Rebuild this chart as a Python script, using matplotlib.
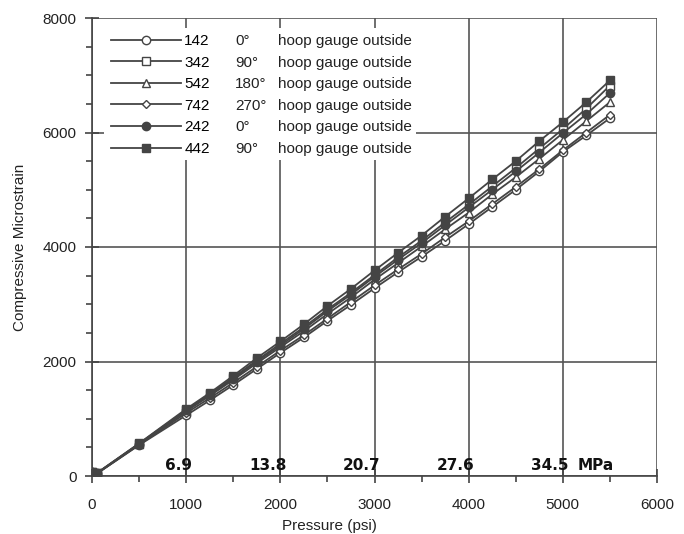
import numpy as np
import matplotlib.pyplot as plt
from matplotlib.patches import Rectangle
from matplotlib.ticker import MultipleLocator

plt.rcParams.update({
    "font.family": ["Liberation Sans", "DejaVu Sans"],
    "font.size": 11,
    "axes.linewidth": 1.2,
})

# Data (pressure in psi, compressive microstrain)
pressure = [0, 50, 500, 1000, 1250, 1500, 1750, 2000, 2250, 2500, 2750,
            3000, 3250, 3500, 3750, 4000, 4250, 4500, 4750, 5000, 5250, 5500]

strain_142 = [70, 40, 540, 1060, 1320, 1590, 1870, 2150, 2420, 2710, 2990,
              3280, 3560, 3830, 4110, 4400, 4700, 5000, 5320, 5660, 5950, 6250]
strain_342 = [70, 45, 565, 1150, 1430, 1720, 2020, 2310, 2600, 2910, 3200,
              3510, 3820, 4110, 4430, 4740, 5060, 5380, 5720, 6060, 6420, 6820]
strain_542 = [70, 45, 555, 1130, 1400, 1680, 1970, 2250, 2530, 2830, 3120,
              3430, 3720, 4010, 4310, 4600, 4920, 5220, 5540, 5870, 6200, 6530]
strain_742 = [70, 40, 545, 1100, 1360, 1630, 1910, 2190, 2460, 2750, 3040,
              3330, 3610, 3880, 4170, 4450, 4750, 5050, 5360, 5690, 6000, 6310]
strain_242 = [70, 45, 560, 1150, 1420, 1700, 2000, 2280, 2570, 2880, 3170,
              3480, 3780, 4070, 4380, 4690, 5000, 5320, 5650, 5990, 6320, 6690]
strain_442 = [70, 50, 570, 1170, 1450, 1750, 2060, 2350, 2650, 2970, 3270,
              3590, 3900, 4200, 4530, 4850, 5180, 5500, 5850, 6180, 6530, 6910]

gauges = ["142", "342", "542", "742", "242", "442"]
angles = ["0°", "90°", "180°", "270°", "0°", "90°"]
location = "hoop gauge outside"
series = [strain_142, strain_342, strain_542, strain_742, strain_242, strain_442]
markers = ["o", "s", "^", "D", "o", "s"]
filled = [False, False, False, False, True, True]

mpa_ticks = [1000, 2000, 3000, 4000, 5000]
mpa_labels = ["6.9", "13.8", "20.7", "27.6", "34.5"]

line_col = "#444444"
grid_col = "#555555"

fig = plt.figure(figsize=(6.84, 5.34), dpi=100)
ax = fig.add_axes([92 / 684, 1 - 476 / 534, 565 / 684, 458 / 534])

handles = []
for vals, mk, fl, g in zip(series, markers, filled, gauges):
    ms = 4.5 if mk == "D" else 6
    h, = ax.plot(pressure, vals, color=line_col, lw=1.3, marker=mk, ms=ms,
                 mec=line_col, mew=1.0, mfc=line_col if fl else "white",
                 label=g, zorder=3)
    handles.append(h)

ax.set_xlim(0, 6000)
ax.set_ylim(0, 8000)
ax.xaxis.set_major_locator(MultipleLocator(1000))
ax.xaxis.set_minor_locator(MultipleLocator(500))
ax.yaxis.set_major_locator(MultipleLocator(2000))
ax.yaxis.set_minor_locator(MultipleLocator(500))
ax.tick_params(which="major", direction="inout", length=10, width=1.2,
               color=line_col, labelcolor="#222222", labelsize=11)
ax.tick_params(axis="x", which="major", pad=11)
ax.tick_params(axis="y", which="major", pad=6)
ax.tick_params(which="minor", direction="out", length=4, width=1.2, color=line_col)

for s in ["top", "right"]:
    ax.spines[s].set_visible(False)
for s in ["left", "bottom"]:
    ax.spines[s].set_color(line_col)

ax.grid(True, which="major", color=grid_col, lw=1.2, zorder=1)
ax.get_xgridlines()[-1].set_visible(False)

ax.set_xlabel("Pressure (psi)", fontsize=11, color="#222222")
ax.xaxis.set_label_coords(0.42, -0.094)
ax.set_ylabel("Compressive Microstrain", fontsize=11, color="#222222")
ax.yaxis.set_label_coords(-0.115, 0.5)

for x, lab in zip(mpa_ticks, mpa_labels):
    ax.text(x + 65, 45, lab, ha="right", va="bottom", fontsize=11,
            fontweight="bold", family="DejaVu Sans", color="#111111", zorder=4)
ax.text(5160, 45, "MPa", ha="left", va="bottom", fontsize=11,
        fontweight="bold", family="DejaVu Sans", color="#111111", zorder=4)

# white legend area hiding the grid behind it
ax.add_patch(Rectangle((104 / 684, 1 - 160 / 534), 312 / 684, 132 / 534,
                       transform=fig.transFigure, facecolor="white",
                       edgecolor="none", zorder=2))

leg = ax.legend(handles=handles, loc="upper left", bbox_to_anchor=(0.02, 0.982),
                frameon=False, handlelength=4.6, handletextpad=0.2,
                labelspacing=0.5, borderpad=0.0, fontsize=11)

fig.canvas.draw()
for t, ang in zip(leg.get_texts(), angles):
    bb = t.get_window_extent()
    yc = (bb.y0 + bb.y1) / 2 / fig.bbox.height
    fig.text(235 / 684, yc, ang, ha="left", va="center", fontsize=11, color="#222222")
    fig.text(278 / 684, yc, location, ha="left", va="center", fontsize=11, color="#222222")

fig.savefig("out.png", dpi=100)
